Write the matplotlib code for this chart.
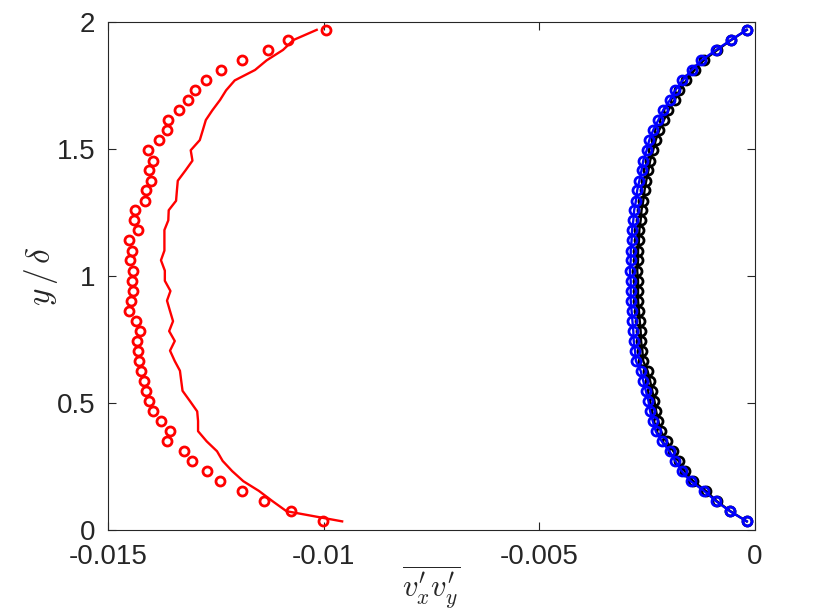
import matplotlib
matplotlib.use("Agg")
import matplotlib.pyplot as plt

plt.rcParams['mathtext.fontset'] = 'cm'
plt.rcParams['axes.unicode_minus'] = False

# y / delta positions (shared by all profiles)
y_delta = [0.034, 0.074, 0.113, 0.154, 0.192, 0.232, 0.272, 0.310, 0.349, 0.389,
           0.429, 0.467, 0.508, 0.548, 0.587, 0.627, 0.665, 0.706, 0.744, 0.783,
           0.822, 0.862, 0.903, 0.941, 0.981, 1.021, 1.062, 1.100, 1.140, 1.181,
           1.219, 1.259, 1.296, 1.337, 1.375, 1.416, 1.454, 1.495, 1.535, 1.574,
           1.614, 1.652, 1.693, 1.731, 1.770, 1.811, 1.849, 1.890, 1.929, 1.969]

red_pts = [-0.01002, -0.01075, -0.01137, -0.01189, -0.01239, -0.01271, -0.01305, -0.01323, -0.01364, -0.01355,
           -0.01377, -0.01395, -0.01404, -0.01412, -0.01417, -0.01423, -0.01428, -0.01430, -0.01433, -0.01426,
           -0.01434, -0.01451, -0.01446, -0.01441, -0.01443, -0.01442, -0.01448, -0.01443, -0.01452, -0.01431,
           -0.01439, -0.01438, -0.01413, -0.01411, -0.01400, -0.01404, -0.01396, -0.01406, -0.01382, -0.01362,
           -0.01360, -0.01336, -0.01314, -0.01299, -0.01272, -0.01237, -0.01189, -0.01130, -0.01082, -0.00995]

red_line = [-0.00957, -0.01086, -0.01118, -0.01150, -0.01186, -0.01212, -0.01234, -0.01247, -0.01271, -0.01291,
            -0.01291, -0.01293, -0.01310, -0.01327, -0.01330, -0.01333, -0.01345, -0.01356, -0.01345, -0.01358,
            -0.01349, -0.01356, -0.01363, -0.01355, -0.01368, -0.01368, -0.01377, -0.01369, -0.01369, -0.01369,
            -0.01360, -0.01359, -0.01342, -0.01340, -0.01338, -0.01320, -0.01304, -0.01308, -0.01287, -0.01280,
            -0.01273, -0.01258, -0.01240, -0.01226, -0.01206, -0.01159, -0.01132, -0.01094, -0.01070, -0.01016]

blue = [-0.00019, -0.00058, -0.00090, -0.00118, -0.00149, -0.00170, -0.00185, -0.00198, -0.00216, -0.00230,
        -0.00237, -0.00243, -0.00247, -0.00253, -0.00259, -0.00265, -0.00276, -0.00278, -0.00281, -0.00282,
        -0.00284, -0.00286, -0.00288, -0.00288, -0.00288, -0.00290, -0.00288, -0.00288, -0.00286, -0.00285,
        -0.00282, -0.00280, -0.00276, -0.00273, -0.00268, -0.00263, -0.00259, -0.00251, -0.00245, -0.00236,
        -0.00224, -0.00213, -0.00197, -0.00185, -0.00168, -0.00147, -0.00124, -0.00090, -0.00056, -0.00019]

black = [-0.00019, -0.00057, -0.00088, -0.00114, -0.00143, -0.00163, -0.00177, -0.00189, -0.00205, -0.00218,
         -0.00224, -0.00229, -0.00233, -0.00238, -0.00243, -0.00249, -0.00259, -0.00261, -0.00264, -0.00265,
         -0.00267, -0.00269, -0.00271, -0.00271, -0.00271, -0.00273, -0.00271, -0.00271, -0.00269, -0.00268,
         -0.00265, -0.00263, -0.00259, -0.00256, -0.00252, -0.00247, -0.00243, -0.00236, -0.00230, -0.00222,
         -0.00211, -0.00201, -0.00186, -0.00175, -0.00159, -0.00140, -0.00119, -0.00087, -0.00055, -0.00019]

xticks = [-0.015, -0.01, -0.005, 0]
xticklabels = ["-0.015", "-0.01", "-0.005", "0"]
yticks = [0, 0.5, 1, 1.5, 2]
yticklabels = ["0", "0.5", "1", "1.5", "2"]

fig = plt.figure(figsize=(8.3, 6.14), dpi=100)
ax = fig.add_axes([0.130, 0.1368, 0.7796, 0.8274])

mk = dict(marker='o', markersize=6.5, markeredgewidth=2.0, markerfacecolor='none', linestyle='none')

ax.plot(red_line, y_delta, color='red', linewidth=1.7)
ax.plot(red_pts, y_delta, color='red', **mk)
ax.plot(black, y_delta, color='black', linewidth=1.7)
ax.plot(black, y_delta, color='black', **mk)
ax.plot(blue, y_delta, color='blue', linewidth=1.7)
ax.plot(blue, y_delta, color='blue', **mk)

ax.set_xlim(-0.015, 0)
ax.set_ylim(0, 2)
ax.set_xticks(xticks)
ax.set_xticklabels(xticklabels)
ax.set_yticks(yticks)
ax.set_yticklabels(yticklabels)

ax.tick_params(direction='in', top=True, right=True, length=6, width=0.8,
               colors='0.15', labelsize=20)
ax.tick_params(axis='x', pad=10)
ax.tick_params(axis='y', pad=9)
for lab in ax.get_xticklabels() + ax.get_yticklabels():
    lab.set_family(['Liberation Sans', 'DejaVu Sans'])
    lab.set_color('0.15')
for sp in ax.spines.values():
    sp.set_color('0.15')
    sp.set_linewidth(0.8)

ax.set_xlabel(r'$\overline{v^{\prime}_x v^{\prime}_y}$', fontsize=22, color='0.15', va='center')
ax.xaxis.set_label_coords(0.5, -0.112)
ax.set_ylabel(r'$y\,/\,\delta$', fontsize=24, color='0.15', va='center')
ax.yaxis.set_label_coords(-0.103, 0.5)

fig.savefig("out.png", dpi=100)
